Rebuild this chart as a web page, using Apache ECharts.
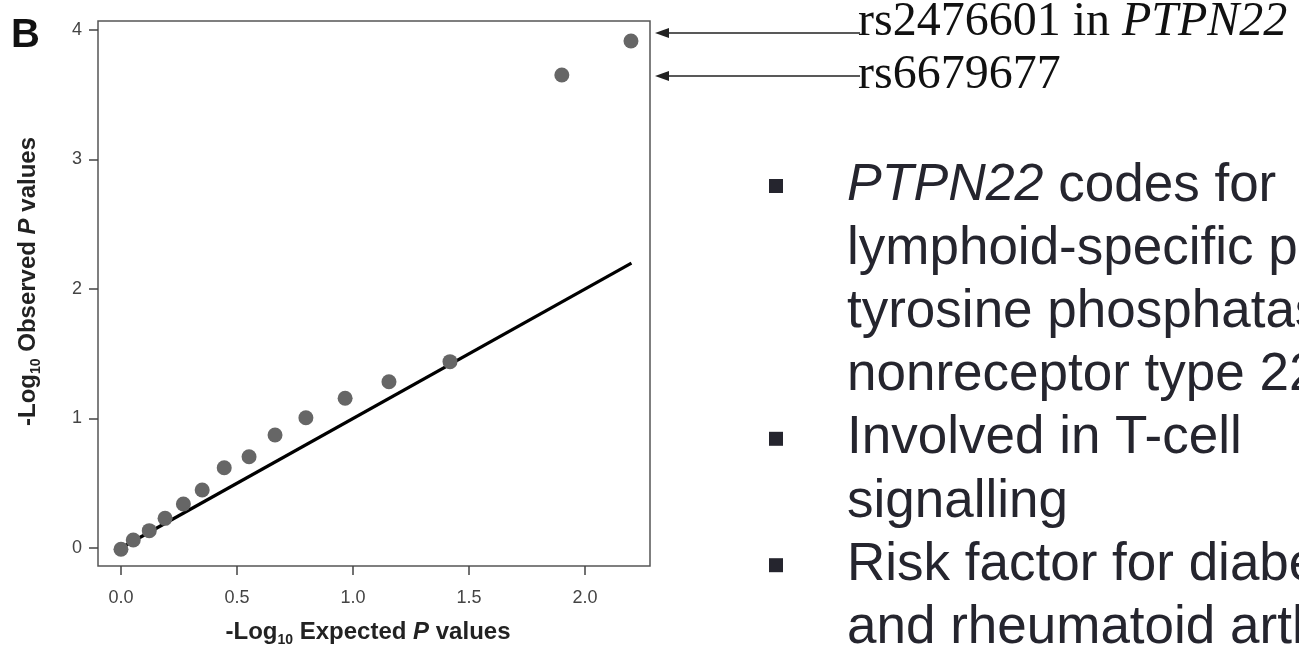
<!DOCTYPE html>
<html>
<head>
<meta charset="utf-8">
<script src="https://cdn.jsdelivr.net/npm/echarts@6/dist/echarts.min.js"></script>
<style>
html,body{margin:0;padding:0;background:#ffffff;}
#chart{width:1299px;height:645px;}
</style>
</head>
<body>
<div id="chart"></div>
<script>
// ---- data ----
const expectedP = [0.00, 0.053, 0.122, 0.190, 0.269, 0.350, 0.445, 0.552, 0.664, 0.797, 0.966, 1.155, 1.418, 1.900, 2.198];
const observedP = [-0.01, 0.062, 0.134, 0.229, 0.340, 0.448, 0.620, 0.705, 0.873, 1.006, 1.156, 1.284, 1.439, 3.653, 3.915];
const nullLineX = [0, 2.2];
const nullLineY = [0, 2.2];
const xTickValues = [0, 0.5, 1, 1.5, 2];
const yTickValues = [0, 1, 2, 3, 4];
const panelLetter = 'B';
const snpLabels = ['rs2476601 in ', 'PTPN22', 'rs6679677'];
const bulletLines = [
  {bullet: true,  parts: [['i', 'PTPN22'], ['n', ' codes for']]},
  {bullet: false, parts: [['n', 'lymphoid-specific protein']]},
  {bullet: false, parts: [['n', 'tyrosine phosphatase,']]},
  {bullet: false, parts: [['n', 'nonreceptor type 22']]},
  {bullet: true,  parts: [['n', 'Involved in T-cell']]},
  {bullet: false, parts: [['n', 'signalling']]},
  {bullet: true,  parts: [['n', 'Risk factor for diabetes']]},
  {bullet: false, parts: [['n', 'and rheumatoid arthritis']]},
  {bullet: true,  parts: [['n', 'Strongest effect of whole']]}
];

const scatterData = expectedP.map((x, i) => [x, observedP[i]]);
const lineData = nullLineX.map((x, i) => [x, nullLineY[i]]);

const chart = echarts.init(document.getElementById('chart'), null, {renderer: 'canvas'});

const axisNameRich = {
  a: {fontFamily: 'Liberation Sans', fontWeight: 'bold', fontSize: 24, color: '#222', lineHeight: 30, verticalAlign: 'middle'},
  s: {fontFamily: 'Liberation Sans', fontWeight: 'bold', fontSize: 14, color: '#222', lineHeight: 14, verticalAlign: 'bottom'},
  i: {fontFamily: 'Liberation Sans', fontWeight: 'bold', fontStyle: 'italic', fontSize: 24, color: '#222', lineHeight: 30, verticalAlign: 'middle'}
};

// right-hand slide text
const textColor = '#25252e';
const graphics = [];
graphics.push({
  type: 'text', left: 11, top: 16,
  style: {text: panelLetter, font: 'bold 40px "Liberation Sans"', fill: '#111'}
});
// arrows + SNP labels
const arrowRows = [{y: 33, textY: 22, rich: '{n|' + snpLabels[0] + '}{i|' + snpLabels[1] + '}'}, {y: 76, textY: 75, rich: '{n|' + snpLabels[2] + '}'}];
arrowRows.forEach(r => {
  graphics.push({type: 'line', shape: {x1: 666, y1: r.y, x2: 860, y2: r.y}, style: {stroke: '#222', lineWidth: 1.6}});
  graphics.push({type: 'polygon', shape: {points: [[655, r.y], [669, r.y - 5], [669, r.y + 5]]}, style: {fill: '#222'}});
  graphics.push({
    type: 'text', x: 858, y: r.textY,
    style: {
      text: r.rich, verticalAlign: 'middle', fill: '#111',
      rich: {
        n: {fontFamily: 'Liberation Serif', fontSize: 48, fill: '#111'},
        i: {fontFamily: 'Liberation Serif', fontStyle: 'italic', fontSize: 48, fill: '#111'}
      }
    }
  });
});
const lineTop = 186, lineStep = 63.2;
bulletLines.forEach((ln, k) => {
  const cy = lineTop + k * lineStep;
  if (ln.bullet) {
    graphics.push({type: 'rect', shape: {x: 769, y: cy - 7, width: 14, height: 14}, style: {fill: textColor}});
  }
  graphics.push({
    type: 'text', x: 847, y: cy,
    style: {
      text: ln.parts.map(p => '{' + p[0] + '|' + p[1] + '}').join(''),
      verticalAlign: 'middle', fill: textColor,
      rich: {
        n: {fontFamily: 'Liberation Sans', fontSize: 53, fill: textColor},
        i: {fontFamily: 'Liberation Sans', fontStyle: 'italic', fontSize: 52, fill: textColor}
      }
    }
  });
});

const option = {
  animation: false,
  backgroundColor: '#ffffff',
  grid: {left: 98, top: 21, right: 649, bottom: 79, show: true, borderColor: '#555', borderWidth: 1.5, backgroundColor: 'transparent', containLabel: false, outerBoundsMode: 'none'},
  xAxis: {
    type: 'value', min: -0.099, max: 2.280,
    name: '{a|-Log}{s|10}{a| Expected }{i|P}{a| values}',
    nameLocation: 'middle', nameGap: 51,
    nameTextStyle: {rich: axisNameRich, padding: [0, 12, 0, 0]},
    axisLine: {show: false, onZero: false},
    axisTick: {show: true, inside: false, length: 9, customValues: xTickValues, lineStyle: {color: '#444', width: 1.5}},
    axisLabel: {show: true, margin: 23, customValues: xTickValues, formatter: v => v.toFixed(1), fontFamily: 'Liberation Sans', fontSize: 18, color: '#444'},
    splitLine: {show: false}
  },
  yAxis: {
    type: 'value', min: -0.139, max: 4.0695,
    name: '{a|-Log}{s|10}{a| Observed }{i|P}{a| values}',
    nameLocation: 'middle', nameGap: 55, nameRotate: 90,
    nameTextStyle: {rich: axisNameRich, padding: [0, 0, 0, 24]},
    axisLine: {show: false, onZero: false},
    axisTick: {show: true, inside: false, length: 9, customValues: yTickValues, lineStyle: {color: '#444', width: 1.5}},
    axisLabel: {show: true, margin: 16, customValues: yTickValues, formatter: v => String(Math.round(v)), fontFamily: 'Liberation Sans', fontSize: 18, color: '#444'},
    splitLine: {show: false}
  },
  series: [
    {
      type: 'line', data: lineData, showSymbol: false, symbol: 'none',
      lineStyle: {color: '#000', width: 3.2}, z: 2
    },
    {
      type: 'scatter', data: scatterData, symbol: 'circle', symbolSize: 15,
      itemStyle: {color: '#666', opacity: 1}, z: 3
    }
  ],
  graphic: graphics
};
chart.setOption(option);
</script>
</body>
</html>
